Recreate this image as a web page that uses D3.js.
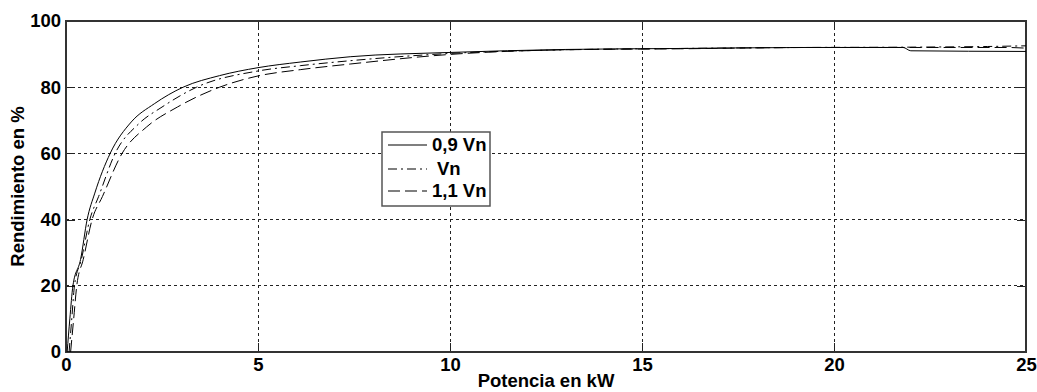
<!DOCTYPE html>
<html>
<head>
<meta charset="utf-8">
<script src="https://cdn.jsdelivr.net/npm/d3@7"></script>
<style>
  body { margin: 0; background: #fff; }
  svg text { font-family: "Liberation Sans", Arial, sans-serif; font-weight: bold; fill: #000; }
</style>
</head>
<body>
<div id="chart"></div>
<script>
// Data: power (kW) and efficiency (%) for each voltage
var power09 = [0.03, 0.1, 0.18, 0.38, 0.55, 0.75, 1.15, 1.7, 2.3, 3.05, 4.0, 5.0, 6.1, 7.4, 10, 13, 16, 19.3, 21.8, 22.0, 25];
var eta09   = [0, 10, 20, 28, 40, 48, 60, 69.5, 75, 80, 83.5, 85.9, 87.6, 89.2, 90.5, 91.4, 91.7, 92.0, 92.0, 91.0, 90.8];

var power10 = [0.08, 0.15, 0.22, 0.4, 0.62, 0.85, 1.28, 1.9, 2.5, 3.4, 5.0, 6.1, 7.4, 10, 13, 16, 19.3, 22, 24, 25];
var eta10   = [0, 10, 20, 28, 40, 47, 60, 69, 74, 80, 84.9, 86.5, 88.0, 90.2, 91.3, 91.7, 92.0, 92.1, 92.3, 92.5];

var power11 = [0.12, 0.2, 0.28, 0.45, 0.68, 0.95, 1.46, 2.1, 2.9, 4.0, 5.0, 6.1, 7.4, 10, 13, 16, 19.3, 24.5, 25];
var eta11   = [0, 10, 20, 28, 40, 47, 60, 68, 74, 80, 83.4, 85.3, 87.0, 89.9, 91.3, 91.6, 92.0, 92.0, 91.8];

var seriesNames = ["0,9 Vn", "Vn", "1,1 Vn"];
var xTicks = [0, 5, 10, 15, 20, 25];
var yTicks = [0, 20, 40, 60, 80, 100];

var width = 1037, height = 392;
var margin = { top: 21, right: 11, bottom: 40, left: 66 };
var plotW = width - margin.left - margin.right;
var plotH = height - margin.top - margin.bottom;
var fontSize = "18.5px";

var svg = d3.select("#chart").append("svg")
  .attr("width", width)
  .attr("height", height);

var x = d3.scaleLinear().domain([0, 25]).range([0, plotW]);
var y = d3.scaleLinear().domain([0, 100]).range([plotH, 0]);

var g = svg.append("g").attr("transform", "translate(" + margin.left + "," + margin.top + ")");

// grid, dotted
g.selectAll(".vgrid").data(xTicks.slice(1, -1)).enter().append("line")
  .attr("x1", d => x(d)).attr("x2", d => x(d))
  .attr("y1", 0).attr("y2", plotH)
  .attr("stroke", "#222").attr("stroke-width", 1)
  .attr("stroke-dasharray", "3,3")
  .attr("shape-rendering", "crispEdges");
g.selectAll(".hgrid").data(yTicks.slice(1, -1)).enter().append("line")
  .attr("y1", d => y(d)).attr("y2", d => y(d))
  .attr("x1", 0).attr("x2", plotW)
  .attr("stroke", "#222").attr("stroke-width", 1)
  .attr("stroke-dasharray", "3,3")
  .attr("shape-rendering", "crispEdges");

// axes with inward ticks on all four sides
var tickLen = 9;
function styleAxis(sel) {
  sel.select(".domain").remove();
  sel.selectAll(".tick line").attr("stroke", "#222").attr("shape-rendering", "crispEdges");
  sel.selectAll(".tick text").style("font-size", fontSize);
}
g.append("g").attr("transform", "translate(0," + plotH + ")")
  .call(d3.axisBottom(x).tickValues(xTicks).tickSize(-tickLen).tickPadding(6))
  .call(styleAxis);
g.append("g")
  .call(d3.axisTop(x).tickValues(xTicks).tickSize(-tickLen).tickFormat(""))
  .call(styleAxis);
g.append("g")
  .call(d3.axisLeft(y).tickValues(yTicks).tickSize(-tickLen).tickPadding(5))
  .call(styleAxis);
g.append("g").attr("transform", "translate(" + plotW + ",0)")
  .call(d3.axisRight(y).tickValues(yTicks).tickSize(-tickLen).tickFormat(""))
  .call(styleAxis);

// box
g.append("rect")
  .attr("x", 0).attr("y", 0).attr("width", plotW).attr("height", plotH)
  .attr("fill", "none").attr("stroke", "#333").attr("stroke-width", 1.2)
  .attr("shape-rendering", "crispEdges");

// curves
g.append("clipPath").attr("id", "clip").append("rect")
  .attr("width", plotW).attr("height", plotH);

var line = d3.line()
  .x(d => x(d[0]))
  .y(d => y(d[1]))
  .curve(d3.curveMonotoneX);

var dashes = [null, "9,4,2,4", "12,5"];
var series = [
  d3.zip(power09, eta09),
  d3.zip(power10, eta10),
  d3.zip(power11, eta11)
];

series.forEach(function(s, i) {
  g.append("path")
    .datum(s)
    .attr("clip-path", "url(#clip)")
    .attr("d", line)
    .attr("fill", "none")
    .attr("stroke", "#000")
    .attr("stroke-width", 1)
    .attr("stroke-dasharray", dashes[i]);
});

// legend
var lg = svg.append("g").attr("transform", "translate(382,132)");
lg.append("rect")
  .attr("width", 108).attr("height", 74)
  .attr("fill", "#fff").attr("stroke", "#555").attr("stroke-width", 1.5);
var legY = [13, 37, 59];
var legTextX = [50, 55, 50];
seriesNames.forEach(function(name, i) {
  lg.append("line")
    .attr("x1", 6).attr("x2", 45)
    .attr("y1", legY[i]).attr("y2", legY[i])
    .attr("stroke", "#000").attr("stroke-width", 1.2)
    .attr("stroke-dasharray", dashes[i]);
  lg.append("text")
    .attr("x", legTextX[i]).attr("y", legY[i])
    .attr("dy", "0.35em")
    .style("font-size", fontSize)
    .text(name);
});

// axis titles
svg.append("text")
  .attr("x", margin.left + plotW / 2)
  .attr("y", 387)
  .attr("text-anchor", "middle")
  .style("font-size", fontSize)
  .text("Potencia en kW");

svg.append("text")
  .attr("transform", "translate(24," + (margin.top + plotH / 2) + ") rotate(-90)")
  .attr("text-anchor", "middle")
  .style("font-size", fontSize)
  .text("Rendimiento en %");
</script>
</body>
</html>
